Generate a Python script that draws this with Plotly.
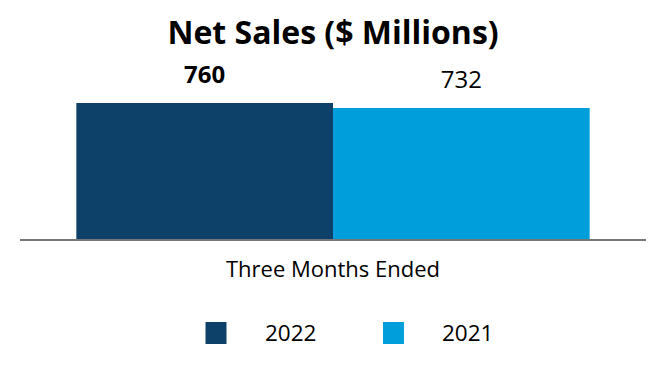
import plotly.graph_objects as go

categories = ["Three Months Ended"]
years = ["2022", "2021"]
values_2022 = [760]
values_2021 = [732]
colors = ["#0E4169", "#009FDB"]

FONT = "Open Sans"

fig = go.Figure()
series = [values_2022, values_2021]
for i, (yr, vals) in enumerate(zip(years, series)):
    fig.add_trace(go.Bar(
        x=categories, y=vals, name=yr, marker_color=colors[i],
        marker_line_width=0, offsetgroup=str(i), showlegend=False,
        hoverinfo="skip",
    ))
    fig.add_trace(go.Scatter(
        x=categories, y=vals, mode="markers+text", offsetgroup=str(i),
        marker=dict(size=21, color="rgba(0,0,0,0)"),
        text=[("<b>%d</b>" % v) if i == 0 else str(v) for v in vals],
        textposition="top center",
        textfont=dict(family=FONT, size=24, color="#000"),
        showlegend=False, hoverinfo="skip", cliponaxis=False,
    ))

# manual legend (large square swatches)
leg_x = [0.3131, 0.5966]
for i, yr in enumerate(years):
    fig.add_shape(type="rect", xref="paper", yref="paper",
                  xsizemode="pixel", ysizemode="pixel",
                  xanchor=leg_x[i], yanchor=-0.525,
                  x0=-10.5, x1=10.5, y0=-11, y1=11,
                  fillcolor=colors[i], line_width=0)
    fig.add_annotation(xref="paper", yref="paper", x=leg_x[i], y=-0.525,
                       xshift=47, text=yr, showarrow=False,
                       xanchor="left", yanchor="middle",
                       font=dict(family=FONT, size=22.5, color="#000"))

fig.update_layout(
    width=666, height=380,
    margin=dict(l=12, r=28, t=52, b=149),
    paper_bgcolor="white", plot_bgcolor="white",
    barmode="group", bargap=0.18, bargroupgap=0,
    scattermode="group", scattergap=0.18,
    title=dict(text="<b>Net Sales ($ Millions)</b>", x=(333 - 8) / 666, xanchor="center",
               y=0.934, yanchor="middle",
               font=dict(family=FONT, size=32, color="#000")),
    xaxis=dict(showline=True, linecolor="#777777", linewidth=2,
               showgrid=False, zeroline=False, ticks="",
               ticklabelstandoff=10,
               tickfont=dict(family=FONT, size=22, color="#000")),
    yaxis=dict(range=[0, 1000], visible=False, showgrid=False, zeroline=False),
)

fig.write_html("out.html")
